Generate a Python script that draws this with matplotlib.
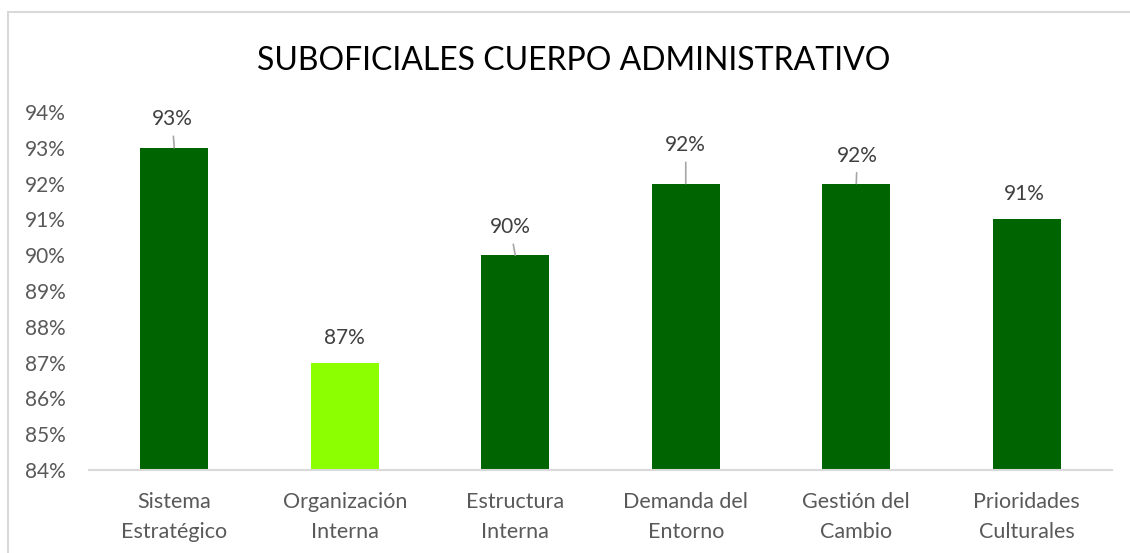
import numpy as np
import matplotlib
matplotlib.use('Agg')
from matplotlib import pyplot as plt
from matplotlib.patches import Rectangle

plt.rcParams['font.family'] = ['Lato', 'DejaVu Sans']

### Data ###
categorias = ['Sistema\nEstratégico', 'Organización\nInterna', 'Estructura\nInterna',
              'Demanda del\nEntorno', 'Gestión del\nCambio', 'Prioridades\nCulturales']
valores = [0.93, 0.87, 0.90, 0.92, 0.92, 0.91]
etiquetas = ['93%', '87%', '90%', '92%', '92%', '91%']
colores = ['#006400', '#8cff00', '#006400', '#006400', '#006400', '#006400']
# label centre offset from bar top (points) and whether a leader line shows
desplaz = [(-1.5, 20.5), (0, 18), (-3.6, 20), (0, 27.5), (0.7, 20), (-2, 18.5)]
lider = [True, False, True, True, True, False]

fig = plt.figure(figsize=(11.3, 5.53), dpi=100)
ax = fig.add_axes([89 / 1130, 1 - 470 / 553, (1112 - 89) / 1130, (470 - 112) / 553])

x = np.arange(len(categorias))
ax.bar(x, valores, width=0.4, color=colores, zorder=2)
ax.set_ylim(0.84, 0.94)
ax.set_xlim(-0.5, len(categorias) - 0.5)
ticks = np.arange(0.84, 0.9401, 0.01)
ax.set_yticks(ticks)
ax.set_yticklabels(['%d%%' % round(v * 100) for v in ticks])
ax.set_xticks(x)
ax.set_xticklabels(categorias, linespacing=1.62, fontsize=15.5)

for s in ['top', 'right', 'left']:
    ax.spines[s].set_visible(False)
ax.spines['bottom'].set_color('#d9d9d9')
ax.spines['bottom'].set_linewidth(1.5)
ax.tick_params(axis='both', length=0, labelcolor='#595959')
ax.tick_params(axis='y', labelsize=15, pad=16.5)
ax.tick_params(axis='x', pad=16)

for xi, v, et, (dx, dy), ll in zip(x, valores, etiquetas, desplaz, lider):
    ax.annotate(et, xy=(xi, v), xytext=(dx, dy), textcoords='offset points',
                ha='center', va='center', fontsize=15, color='#404040',
                arrowprops=dict(arrowstyle='-', color='#a6a6a6', lw=1.2,
                                shrinkA=3, shrinkB=0) if ll else None)

fig.text(574 / 1130, 1 - 70 / 553, 'SUBOFICIALES CUERPO ADMINISTRATIVO',
         ha='center', va='baseline', fontsize=23, color='#000000')

# outer chart frame (cropped at right and bottom)
fig.patches.append(Rectangle((8 / 1130, -0.1), 1.2, 1 - 12 / 553 + 0.1,
                             transform=fig.transFigure, fill=False,
                             edgecolor='#d9d9d9', lw=1.5))

fig.savefig('out.png', dpi=100)
